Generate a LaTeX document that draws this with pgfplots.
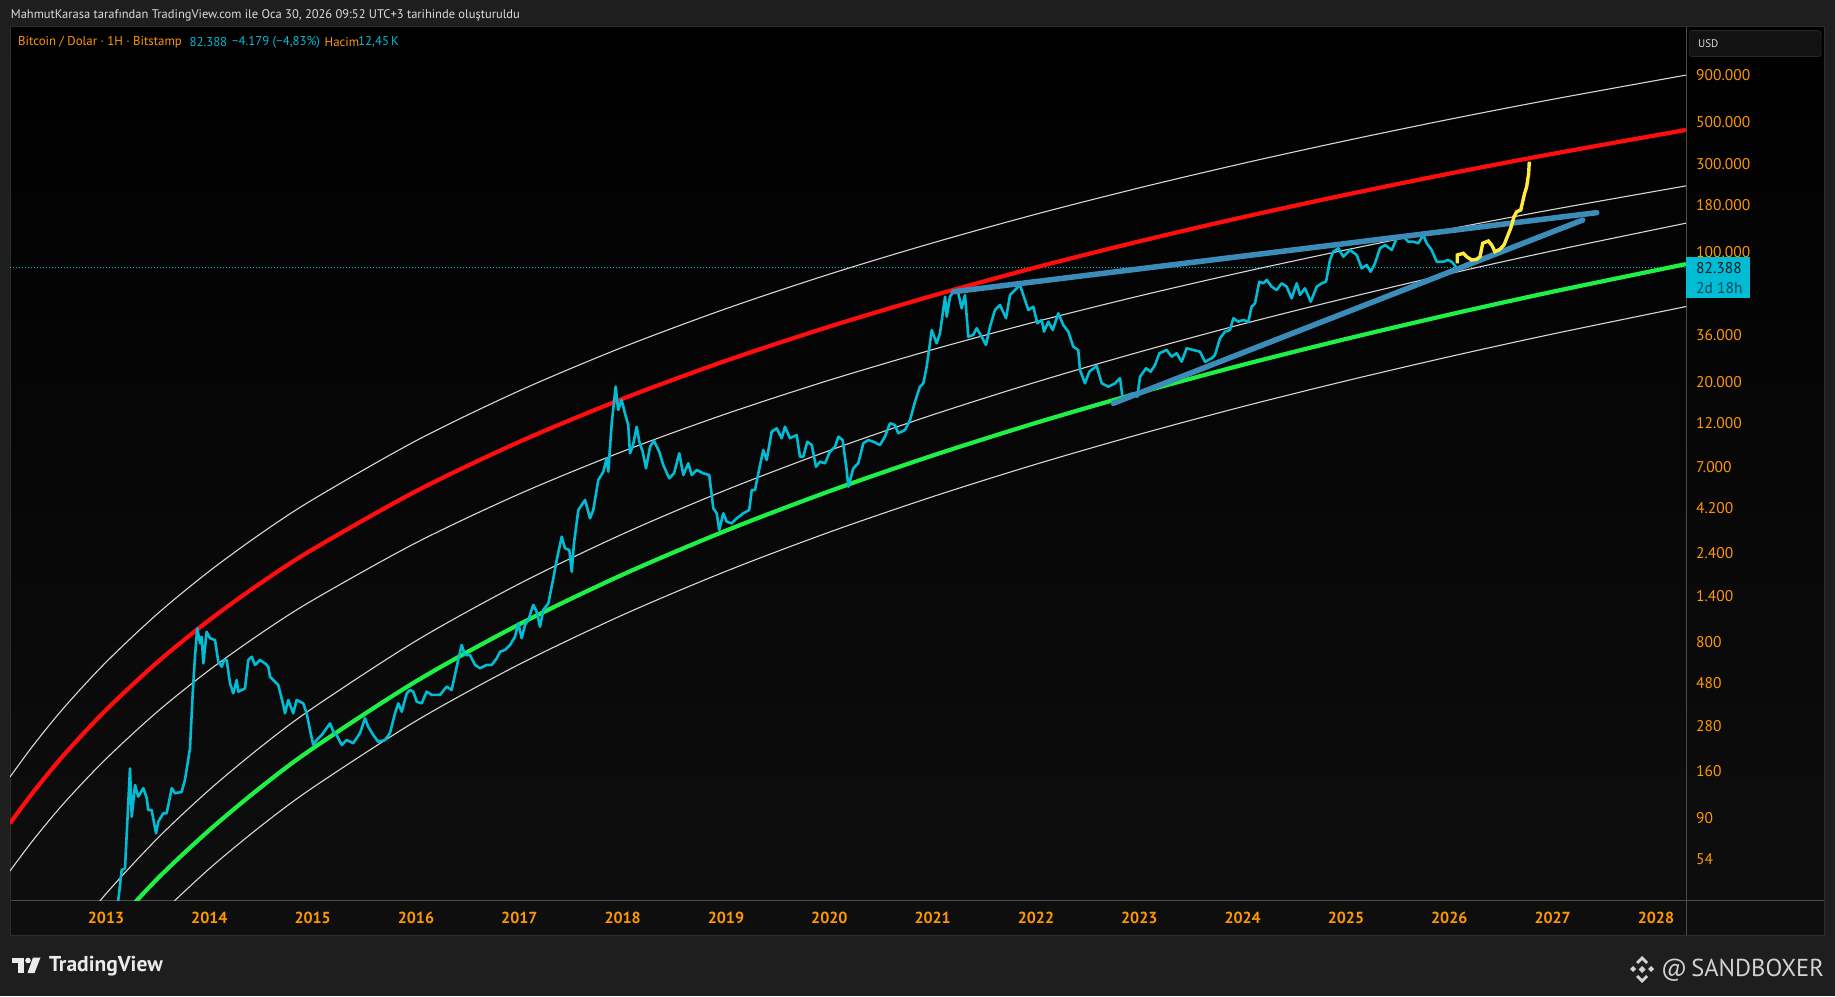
\documentclass[border=0pt]{standalone}
\usepackage{pgfplots}
\pgfplotsset{compat=1.18}
\usepackage{fontspec}
\setmainfont{PT Sans}
\definecolor{bgout}{RGB}{30,30,30}
\definecolor{panelbot}{RGB}{14,14,14}
\definecolor{panelborder}{RGB}{45,45,45}
\definecolor{tvorange}{RGB}{255,152,0}
\definecolor{tvcyan}{RGB}{0,188,212}
\definecolor{tvred}{RGB}{255,12,12}
\definecolor{tvgreen}{RGB}{30,240,70}
\definecolor{tvwhite}{RGB}{215,215,215}
\definecolor{tvblue}{RGB}{60,140,185}
\definecolor{tvyellow}{RGB}{255,235,59}
\definecolor{tvgray}{RGB}{75,75,75}
\definecolor{txtgray}{RGB}{220,220,220}
\definecolor{usdborder}{RGB}{60,60,60}
\definecolor{usdfill}{RGB}{18,18,18}
\definecolor{pricetxt}{RGB}{5,25,30}
\definecolor{timetxt}{RGB}{0,70,85}
\definecolor{logocol}{RGB}{235,235,235}
\definecolor{sbcol}{RGB}{210,210,210}
\begin{document}
\begin{tikzpicture}[x=1pt,y=1pt]
\fill[bgout] (0,0) rectangle (1835,996);
\shade[top color=black, bottom color=panelbot] (10,61) rectangle (1824,969);
\draw[tvgray, line width=0.8pt] (10,95.5) -- (1824,95.5);
\draw[tvgray, line width=0.8pt] (1686,61) -- (1686,969);
\draw[panelborder, line width=1pt] (10,61) rectangle (1824,969);

\begin{axis}[
  at={(10pt,95.5pt)}, anchor=south west, scale only axis,
  width=1676pt, height=873.5pt,
  xmin=2012.0709, xmax=2028.2908,
  ymode=log, ymin=32.28, ymax=1632100,
  axis line style={draw=none},
  major tick length=0pt, minor tick num=0,
  xtick={2013,2014,2015,2016,2017,2018,2019,2020,2021,2022,2023,2024,2025,2026,2027,2028},
  xticklabels={2013,2014,2015,2016,2017,2018,2019,2020,2021,2022,2023,2024,2025,2026,2027,2028},
  xticklabel style={font=\fontsize{16}{18}\selectfont\bfseries, text=tvorange, anchor=center, yshift=-17pt, inner sep=0pt},
  ytick={54,90,160,280,480,800,1400,2400,4200,7000,12000,20000,36000,100000,180000,300000,500000,900000},
  yticklabels={54,90,160,280,480,800,1.400,2.400,4.200,7.000,12.000,20.000,36.000,100.000,180.000,300.000,500.000,900.000},
  yticklabel pos=right,
  yticklabel style={font=\fontsize{15.5}{18}\selectfont, text=tvorange, anchor=west, xshift=10pt, inner sep=0pt},
  clip=true,
]
% current price dotted line
\addplot[tvcyan, line width=0.8pt, dash pattern=on 1pt off 2pt] coordinates {(2012.0709,82388) (2028.2908,82388)};
% upper white band
\addplot[tvwhite, line width=1.1pt, smooth] coordinates {
(2012.07,149.1) (2012.3,222.5) (2012.6,356.3) (2013.0,619.8) (2013.5,1132) (2014.0,1916) (2014.5,3057) (2015.0,4650) (2016.0,9650) (2017.0,17940) (2018.0,30780) (2019.0,49630) (2020.0,76150) (2021.0,112200) (2022.0,160200) (2023.0,222100) (2024.0,300600) (2025.0,398600) (2026.0,519300) (2027.0,665800) (2028.29,898700)};
% red band
\addplot[tvred, line width=4.2pt, smooth] coordinates {
(2012.07,83.9) (2012.3,124.6) (2012.6,198.4) (2013.0,342.6) (2013.5,621.8) (2014.0,1045) (2014.5,1658) (2015.0,2509) (2016.0,5163) (2017.0,9526) (2018.0,16240) (2019.0,26040) (2020.0,39750) (2021.0,58310) (2022.0,82830) (2023.0,114400) (2024.0,154300) (2025.0,203900) (2026.0,264900) (2027.0,338500) (2028.29,455300)};
% white band 2
\addplot[tvwhite, line width=1.1pt, smooth] coordinates {
(2012.07,46.5) (2012.3,68.8) (2012.6,109.0) (2013.0,186.9) (2013.5,336.6) (2014.0,562.3) (2014.5,887.2) (2015.0,1336) (2016.0,2724) (2017.0,4991) (2018.0,8453) (2019.0,13470) (2020.0,20460) (2021.0,29880) (2022.0,42250) (2023.0,58130) (2024.0,78130) (2025.0,102900) (2026.0,133200) (2027.0,169700) (2028.29,227500)};
% white band 3
\addplot[tvwhite, line width=1.1pt, smooth] coordinates {
(2012.6,18.65) (2013.0,35.1) (2013.5,69.9) (2014.0,127.4) (2014.5,217.2) (2015.0,350.6) (2016.0,807.2) (2017.0,1639) (2018.0,3037) (2019.0,5241) (2020.0,8548) (2021.0,13310) (2022.0,19980) (2023.0,29010) (2024.0,41030) (2025.0,56570) (2026.0,76560) (2027.0,101700) (2028.29,143300)};
% green band
\addplot[tvgreen, line width=4.2pt, smooth] coordinates {
(2013.0,21.3) (2013.5,42.4) (2014.0,77.2) (2014.5,131.7) (2015.0,212.5) (2016.0,488.7) (2017.0,991.5) (2018.0,1836) (2019.0,3167) (2020.0,5160) (2021.0,8035) (2022.0,12050) (2023.0,17500) (2024.0,24730) (2025.0,34100) (2026.0,46130) (2027.0,61260) (2028.29,86270)};
% white band 4
\addplot[tvwhite, line width=1.1pt, smooth] coordinates {
(2013.5,26.4) (2014.0,47.9) (2014.5,81.3) (2015.0,130.7) (2016.0,299.0) (2017.0,603.8) (2018.0,1113) (2019.0,1914) (2020.0,3108) (2021.0,4825) (2022.0,7216) (2023.0,10450) (2024.0,14740) (2025.0,20280) (2026.0,27370) (2027.0,36270) (2028.29,50960)};
% BTC price
\addplot[tvcyan, line width=2.6pt, line join=round] coordinates {
(2013.08,20) (2013.119,32.5) (2013.152,47.1) (2013.184,48.1) (2013.232,166) (2013.249,91.2) (2013.281,135) (2013.312,117) (2013.361,130) (2013.394,115) (2013.409,99.1) (2013.442,99.1) (2013.484,74.3) (2013.506,85.8) (2013.554,95.2) (2013.587,95.2) (2013.636,130) (2013.668,122) (2013.732,124) (2013.764,144) (2013.813,213) (2013.839,421) (2013.861,663) (2013.883,943) (2013.910,783) (2013.926,850) (2013.942,611) (2013.974,904)
(2014.006,834) (2014.055,816) (2014.087,623) (2014.120,586) (2014.142,637) (2014.168,637) (2014.200,477) (2014.232,421) (2014.265,497) (2014.280,430) (2014.345,448) (2014.377,637) (2014.410,663) (2014.442,599) (2014.490,637) (2014.539,611) (2014.571,586) (2014.587,517) (2014.635,487) (2014.667,467) (2014.716,365) (2014.732,329) (2014.764,388) (2014.812,329) (2014.845,388) (2014.909,372) (2014.942,329) (2014.974,267)
(2015.006,222) (2015.039,236) (2015.087,251) (2015.168,290) (2015.200,262) (2015.232,251) (2015.281,222) (2015.329,236) (2015.393,227) (2015.458,257) (2015.506,309) (2015.538,278) (2015.587,251) (2015.635,231) (2015.700,236) (2015.748,257) (2015.797,329) (2015.829,372) (2015.862,335) (2015.910,421) (2015.942,439) (2015.974,430)
(2016.007,380) (2016.055,372) (2016.103,430) (2016.152,413) (2016.232,413) (2016.297,458) (2016.345,439) (2016.394,586) (2016.442,767) (2016.474,677) (2016.523,677) (2016.571,599) (2016.619,575) (2016.684,599) (2016.733,599) (2016.781,650) (2016.813,706) (2016.861,721) (2016.910,767) (2016.958,850) (2016.990,1004)
(2017.023,834) (2017.055,983) (2017.087,1046) (2017.135,1260) (2017.168,1159) (2017.200,962) (2017.232,1184) (2017.281,1286) (2017.329,1753) (2017.362,2200) (2017.410,2938) (2017.442,2544) (2017.484,2490) (2017.507,1903) (2017.529,2707) (2017.571,4090) (2017.636,4630) (2017.684,3690) (2017.716,4090) (2017.764,5932) (2017.813,6577) (2017.845,7765) (2017.861,6577) (2017.894,11980) (2017.932,18870) (2017.957,14140) (2017.990,16000)
(2018.022,13570) (2018.054,11730) (2018.071,8264) (2018.097,8966) (2018.136,11490) (2018.161,9539) (2018.194,8425) (2018.226,6860) (2018.265,8966) (2018.303,9658) (2018.354,8425) (2018.393,7146) (2018.451,6058) (2018.497,6447) (2018.548,8264) (2018.587,6313) (2018.635,7299) (2018.668,6313) (2018.716,6716) (2018.780,6447) (2018.838,6313) (2018.877,4178) (2018.910,3927) (2018.935,3192) (2018.974,3927)
(2019.007,3538) (2019.055,3468) (2019.104,3690) (2019.167,3927) (2019.225,4090) (2019.249,5241) (2019.281,5241) (2019.313,6447) (2019.361,8604) (2019.394,7603) (2019.442,10800) (2019.491,11260) (2019.539,9952) (2019.571,11490) (2019.619,9952) (2019.684,10360) (2019.716,7922) (2019.748,7922) (2019.787,9539) (2019.830,9158) (2019.871,6997) (2019.910,7445) (2019.958,7299)
(2020.006,8425) (2020.055,8966) (2020.087,10150) (2020.129,9743) (2020.168,6716) (2020.184,5462) (2020.232,6860) (2020.280,7299) (2020.329,9352) (2020.377,9743) (2020.432,9504) (2020.490,9158) (2020.538,10150) (2020.587,11980) (2020.635,11730) (2020.667,10590) (2020.732,11030) (2020.781,12490) (2020.829,15660) (2020.877,18870) (2020.910,19680) (2020.942,24180) (2020.974,32320) (2020.991,38110)
(2021.039,32320) (2021.071,36580) (2021.120,57600) (2021.136,44940) (2021.168,57600) (2021.200,61290) (2021.248,60090) (2021.281,49870) (2021.313,58830) (2021.345,35080) (2021.393,35820) (2021.426,38930) (2021.474,35080) (2021.516,31650) (2021.555,39710) (2021.603,48830) (2021.652,51960) (2021.710,44060) (2021.749,58830) (2021.797,62570) (2021.845,66590) (2021.877,58830) (2021.926,48830) (2021.974,50880)
(2022.013,41410) (2022.055,43140) (2022.078,37320) (2022.119,42250) (2022.162,38110) (2022.216,46880) (2022.264,40550) (2022.313,37320) (2022.361,30980) (2022.409,29740) (2022.426,23210) (2022.474,19680) (2022.516,22730) (2022.587,24390) (2022.636,19680) (2022.700,18870) (2022.765,19680) (2022.813,20940) (2022.839,16340) (2022.894,17020) (2022.942,17390) (2022.981,16670)
(2023.007,21360) (2023.065,23700) (2023.110,22730) (2023.152,24690) (2023.194,28550) (2023.265,29740) (2023.313,27370) (2023.362,28550) (2023.410,25720) (2023.458,30380) (2023.522,29740) (2023.587,29120) (2023.636,25720) (2023.700,26830) (2023.732,27950) (2023.781,34390) (2023.829,37320) (2023.877,38110) (2023.910,44060) (2023.958,42250)
(2024.006,43140) (2024.055,42250) (2024.087,50880) (2024.120,53060) (2024.161,69360) (2024.200,68000) (2024.233,70840) (2024.281,65200) (2024.329,62570) (2024.378,68000) (2024.426,65200) (2024.474,56470) (2024.523,68000) (2024.555,58830) (2024.603,63920) (2024.659,54120) (2024.717,65200) (2024.765,68000) (2024.807,69360) (2024.845,90780) (2024.877,100600) (2024.926,105000) (2024.974,94580)
(2025.039,102800) (2025.104,96580) (2025.152,81900) (2025.201,85330) (2025.239,78520) (2025.281,87130) (2025.329,105000) (2025.378,109300) (2025.443,102800) (2025.491,118800) (2025.555,121200) (2025.603,113900) (2025.652,113900) (2025.700,111700) (2025.748,123800) (2025.781,111700) (2025.829,102800) (2025.878,88870) (2025.942,88870) (2025.990,90780) (2026.026,88540) (2026.071,82388)};
% trend lines
\addplot[tvblue, line width=5.5pt, line cap=round] coordinates {(2021.200,61240) (2027.427,163300)};
\addplot[tvblue, line width=5.5pt, line cap=round] coordinates {(2022.748,15360) (2027.291,149000)};
% projection
\addplot[tvyellow, line width=3.4pt] coordinates {
(2026.077,87130) (2026.077,96580) (2026.136,98650) (2026.168,94580) (2026.216,90780) (2026.265,91580) (2026.297,94580) (2026.323,111700) (2026.377,114900) (2026.410,109300) (2026.442,100600) (2026.490,103700) (2026.529,109300) (2026.555,118800) (2026.594,134500) (2026.626,155300) (2026.652,165200) (2026.691,168700) (2026.710,187000) (2026.729,207600) (2026.749,225300) (2026.768,266000) (2026.774,307200)};
\end{axis}

% header
\node[anchor=west, inner sep=0pt, text=txtgray, font=\fontsize{12.5}{14}\selectfont] at (10.7,981) {MahmutKarasa tarafından TradingView.com ile Oca 30, 2026 09:52 UTC+3 tarihinde oluşturuldu};
\node[anchor=west, inner sep=0pt, text=tvorange, font=\fontsize{12.8}{14}\selectfont] at (18,954) {Bitcoin / Dolar · 1H · Bitstamp};
\node[anchor=west, inner sep=0pt, text=tvcyan, font=\fontsize{12.8}{14}\selectfont] at (189.4,954) {82.388};
\node[anchor=west, inner sep=0pt, text=tvcyan, font=\fontsize{12.8}{14}\selectfont] at (232,954) {−4.179 (−4,83\%)};
\node[anchor=west, inner sep=0pt, text=tvorange, font=\fontsize{12.8}{14}\selectfont] at (324.5,954) {Hacim};
\node[anchor=west, inner sep=0pt, text=tvcyan, font=\fontsize{12.8}{14}\selectfont] at (358,954) {12,45\,K};

% USD box
\draw[usdborder, fill=usdfill, rounded corners=3pt] (1689,939.3) rectangle (1821,965.3);
\node[anchor=west, inner sep=0pt, text=txtgray, font=\fontsize{11}{12}\selectfont] at (1698,952) {USD};

% price label
\fill[tvcyan] (1686,698) rectangle (1750,739);
\node[anchor=west, inner sep=0pt, text=pricetxt, font=\fontsize{15.5}{18}\selectfont] at (1696,728) {82.388};
\node[anchor=west, inner sep=0pt, text=timetxt, font=\fontsize{15.5}{18}\selectfont] at (1696,708) {2d 18h};

% footer: TradingView logo
\fill[logocol] (11.5,33) rectangle (24,38.5);
\fill[logocol] (17.5,23) rectangle (24,38.5);
\fill[logocol] (28,35.5) circle (2.8);
\fill[logocol] (33,38.5) -- (40.5,38.5) -- (34.5,23) -- (27.5,23) -- cycle;
\node[anchor=west, inner sep=0pt, text=logocol, font=\fontsize{21.5}{24}\selectfont\bfseries] at (48.8,30) {TradingView};

% footer: SANDBOXER
\fill[sbcol] (1642,30) -- (1645.5,26.5) -- (1642,23) -- (1638.5,26.5) -- cycle;
\fill[sbcol] (1633,30) -- (1636,27) -- (1633,24) -- (1630,27) -- cycle;
\fill[sbcol] (1651,30) -- (1654,27) -- (1651,24) -- (1648,27) -- cycle;
\fill[sbcol] (1642,40) -- (1648,34) -- (1646,32) -- (1642,36) -- (1638,32) -- (1636,34) -- cycle;
\fill[sbcol] (1642,13) -- (1648,19) -- (1646,21) -- (1642,17) -- (1638,21) -- (1636,19) -- cycle;
\node[anchor=west, inner sep=0pt, text=sbcol, font=\fontsize{24.5}{27}\selectfont] at (1661,26) {@\,SANDBOXER};

\pgfresetboundingbox
\path[use as bounding box] (0,0) rectangle (1835,996);
\end{tikzpicture}
\end{document}
